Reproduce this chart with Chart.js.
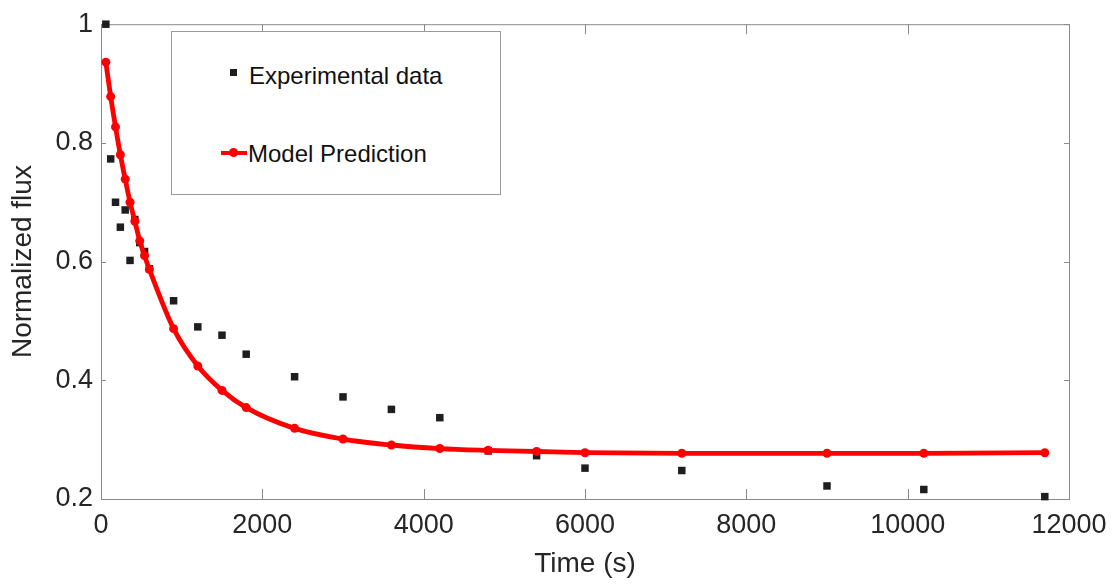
<!DOCTYPE html>
<html>
<head>
<meta charset="utf-8">
<script src="https://cdn.jsdelivr.net/npm/chart.js@4.4.0/dist/chart.umd.min.js"></script>
<style>
  body { margin: 0; background: #fff; }
  #wrap { position: relative; width: 1113px; height: 585px; }
  .legend {
    position: absolute; left: 171px; top: 31px; width: 328px; height: 162px;
    border: 1px solid #9a9a9a; background: #fff;
    font-family: "Liberation Sans", Arial, sans-serif; font-size: 24px; color: #111;
  }
  .legend span { position: absolute; line-height: 28px; white-space: nowrap; }
  .sq { position: absolute; width: 7px; height: 7px; background: #1e1e1e; }
  .ln { position: absolute; height: 4px; background: #f00; }
  .dot { position: absolute; width: 9px; height: 9px; border-radius: 50%; background: #f00; }
</style>
</head>
<body>
<div id="wrap">
  <canvas id="chart" width="1113" height="585"></canvas>
  <div class="legend">
    <div class="sq" style="left:58px; top:37px;"></div>
    <span style="left:77px; top:30px;">Experimental data</span>
    <div class="ln" style="left:49px; top:119px; width:26px;"></div>
    <div class="dot" style="left:57px; top:116px;"></div>
    <span style="left:76px; top:108px;">Model Prediction</span>
  </div>
</div>
<script>
  // experimental points (time in s, normalized flux)
  const expTime = [60, 120, 180, 240, 300, 360, 420, 480, 540, 600, 900, 1200, 1500, 1800, 2400, 3000, 3600, 4200, 4800, 5400, 6000, 7200, 9000, 10200, 11700];
  const expFlux = [1.0, 0.773, 0.700, 0.658, 0.687, 0.602, 0.671, 0.632, 0.617, 0.588, 0.534, 0.490, 0.476, 0.444, 0.406, 0.372, 0.351, 0.337, 0.281, 0.273, 0.252, 0.248, 0.222, 0.216, 0.204];

  // model prediction
  const modelTime = [60, 120, 180, 240, 300, 360, 420, 480, 540, 600, 900, 1200, 1500, 1800, 2400, 3000, 3600, 4200, 4800, 5400, 6000, 7200, 9000, 10200, 11700];
  const modelFlux = [0.936, 0.878, 0.827, 0.780, 0.739, 0.700, 0.668, 0.635, 0.610, 0.587, 0.487, 0.424, 0.383, 0.354, 0.319, 0.301, 0.291, 0.285, 0.282, 0.280, 0.278, 0.277, 0.277, 0.277, 0.278];

  const xTickValues = [0, 2000, 4000, 6000, 8000, 10000, 12000];
  const yTickValues = [0.2, 0.4, 0.6, 0.8, 1];

  const axisColor = '#8a8a8a';
  const textColor = '#262626';
  const fontFamily = '"Liberation Sans", Arial, sans-serif';

  // matlab style box with inward ticks
  const boxPlugin = {
    id: 'box',
    beforeDatasetsDraw(chart) {
      const {ctx, chartArea: a, scales: {x, y}} = chart;
      ctx.save();
      ctx.strokeStyle = axisColor;
      ctx.lineWidth = 1;
      ctx.strokeRect(a.left + 0.5, a.top + 0.5, a.right - a.left, a.bottom - a.top);
      ctx.beginPath();
      x.ticks.forEach(t => {
        const px = Math.round(x.getPixelForValue(t.value)) + 0.5;
        ctx.moveTo(px, a.bottom); ctx.lineTo(px, a.bottom - 10);
        ctx.moveTo(px, a.top); ctx.lineTo(px, a.top + 10);
      });
      y.ticks.forEach(t => {
        const py = Math.round(y.getPixelForValue(t.value)) + 0.5;
        ctx.moveTo(a.left, py); ctx.lineTo(a.left + 5, py);
        ctx.moveTo(a.right, py); ctx.lineTo(a.right - 5, py);
      });
      ctx.stroke();
      ctx.restore();
    }
  };

  new Chart(document.getElementById('chart').getContext('2d'), {
    type: 'scatter',
    data: {
      datasets: [{
        label: 'Model Prediction',
        data: modelTime.map((t, i) => ({x: t, y: modelFlux[i]})),
        showLine: true,
        borderColor: '#f00',
        borderWidth: 4.8,
        backgroundColor: '#f00',
        pointRadius: 4.5,
        pointBorderWidth: 0,
        cubicInterpolationMode: 'monotone',
        clip: false,
        order: 0
      }, {
        label: 'Experimental data',
        data: expTime.map((t, i) => ({x: t, y: expFlux[i]})),
        pointStyle: 'rect',
        pointRadius: 5.3,
        pointBorderWidth: 0,
        backgroundColor: '#1e1e1e',
        clip: false,
        order: 1
      }]
    },
    options: {
      responsive: false,
      animation: false,
      devicePixelRatio: 1,
      layout: { padding: { left: 0, right: 44, top: 21, bottom: 0 } },
      plugins: { legend: { display: false }, tooltip: { enabled: false } },
      scales: {
        x: {
          type: 'linear',
          min: 0,
          max: 12000,
          afterBuildTicks: s => { s.ticks = xTickValues.map(v => ({value: v})); },
          afterFit: s => { s.height = 86; s.paddingRight = 0; s.paddingLeft = 0; },
          grid: { display: false, drawTicks: false },
          border: { display: false },
          ticks: {
            padding: 10,
            color: textColor,
            font: { family: fontFamily, size: 27 },
            maxRotation: 0,
            callback: v => String(v)
          },
          title: {
            display: true,
            text: 'Time (s)',
            color: textColor,
            font: { family: fontFamily, size: 28 },
            padding: { top: 0, bottom: 4 }
          }
        },
        y: {
          min: 0.2,
          max: 1,
          afterBuildTicks: s => { s.ticks = yTickValues.map(v => ({value: v})); },
          afterFit: s => { s.width = 101; },
          grid: { display: false, drawTicks: false },
          border: { display: false },
          ticks: {
            padding: 8,
            color: textColor,
            font: { family: fontFamily, size: 27 },
            callback: v => String(v)
          },
          title: {
            display: true,
            text: 'Normalized flux',
            color: textColor,
            font: { family: fontFamily, size: 28 },
            padding: { top: 6, bottom: 0 }
          }
        }
      }
    },
    plugins: [boxPlugin]
  });
</script>
</body>
</html>
